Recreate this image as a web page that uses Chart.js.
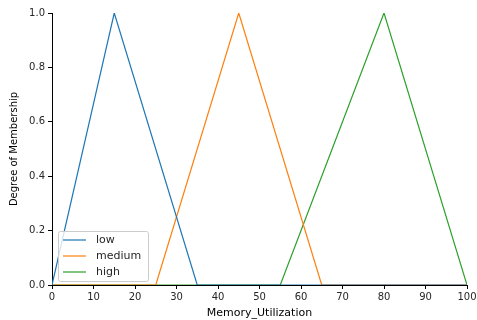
<!DOCTYPE html>
<html><head><meta charset="utf-8">
<script src="https://cdn.jsdelivr.net/npm/chart.js@4"></script>
<style>html,body{margin:0;padding:0;background:#fff}</style>
</head><body>
<canvas id="c" width="477" height="320"></canvas>
<script>
const seriesNames = ["low", "medium", "high"];
const lowX = [0, 15, 35, 100];
const lowY = [0, 1, 0, 0];
const mediumX = [0, 25, 45, 65, 100];
const mediumY = [0, 0, 1, 0, 0];
const highX = [0, 55, 80, 100];
const highY = [0, 0, 1, 0];
const xTicks = [0, 10, 20, 30, 40, 50, 60, 70, 80, 90, 100];
const yTicks = [0, 0.2, 0.4, 0.6, 0.8, 1.0];
const colors = ["#1f77b4", "#ff7f0e", "#2ca02c"];

const pts = (xs, ys) => xs.map((x, i) => ({x, y: ys[i]}));
const FONT = {family: "'DejaVu Sans'", size: 10};

const legendPlugin = {
  id: 'mplLegend',
  afterDatasetsDraw(chart) {
    const ctx = chart.ctx;
    const x0 = 58, y0 = 231, w = 90, h = 50;
    ctx.save();
    ctx.fillStyle = 'rgba(255,255,255,0.8)';
    ctx.strokeStyle = '#cccccc';
    ctx.lineWidth = 1;
    ctx.beginPath();
    ctx.roundRect(x0 + 0.5, y0 + 0.5, w, h, 2);
    ctx.fill(); ctx.stroke();
    ctx.font = "11px 'DejaVu Sans'";
    ctx.textBaseline = 'middle';
    chart.data.datasets.forEach((ds, i) => {
      const yy = y0 + 9 + i * 16;
      ctx.strokeStyle = ds.borderColor;
      ctx.lineWidth = 1.2;
      ctx.beginPath(); ctx.moveTo(63, yy); ctx.lineTo(86, yy); ctx.stroke();
      ctx.fillStyle = '#262626';
      ctx.fillText(ds.label, 96, yy);
    });
    ctx.restore();
  }
};

new Chart(document.getElementById('c'), {
  type: 'line',
  data: {
    datasets: [
      {label: seriesNames[0], data: pts(lowX, lowY)},
      {label: seriesNames[1], data: pts(mediumX, mediumY)},
      {label: seriesNames[2], data: pts(highX, highY)}
    ].map((d, i) => Object.assign(d, {borderColor: colors[i], backgroundColor: colors[i], borderWidth: 1.2, pointRadius: 0, tension: 0, fill: false}))
  },
  options: {
    responsive: false,
    animation: false,
    layout: {padding: {top: 13, right: 10, left: 0, bottom: 0}},
    plugins: {legend: {display: false}, tooltip: {enabled: false}},
    scales: {
      x: {
        type: 'linear', min: 0, max: 100,
        afterBuildTicks: s => { s.ticks = xTicks.map(v => ({value: v})); },
        afterFit: s => { s.height = 35; s.paddingLeft = 0; s.paddingRight = 0; },
        grid: {display: true, drawOnChartArea: false, drawTicks: true, tickLength: 4, color: '#000'},
        border: {display: true, color: '#000', width: 1},
        ticks: {color: '#262626', font: FONT, padding: 2, maxRotation: 0},
        title: {display: true, text: 'Memory_Utilization', color: '#000', font: {family: "'DejaVu Sans'", size: 11}, padding: {top: 2, bottom: 0}}
      },
      y: {
        type: 'linear', min: 0, max: 1,
        afterBuildTicks: s => { s.ticks = yTicks.map(v => ({value: v})); },
        afterFit: s => { s.width = 52; s.paddingTop = 0; s.paddingBottom = 0; },
        grid: {display: true, drawOnChartArea: false, drawTicks: true, tickLength: 4, color: '#000'},
        border: {display: true, color: '#000', width: 1},
        ticks: {color: '#262626', font: FONT, padding: 3, callback: v => v.toFixed(1)},
        title: {display: true, text: 'Degree of Membership', color: '#000', font: {family: "'DejaVu Sans'", size: 10}, padding: {top: 8, bottom: 2}}
      }
    }
  },
  plugins: [legendPlugin]
});
</script>
</body></html>
